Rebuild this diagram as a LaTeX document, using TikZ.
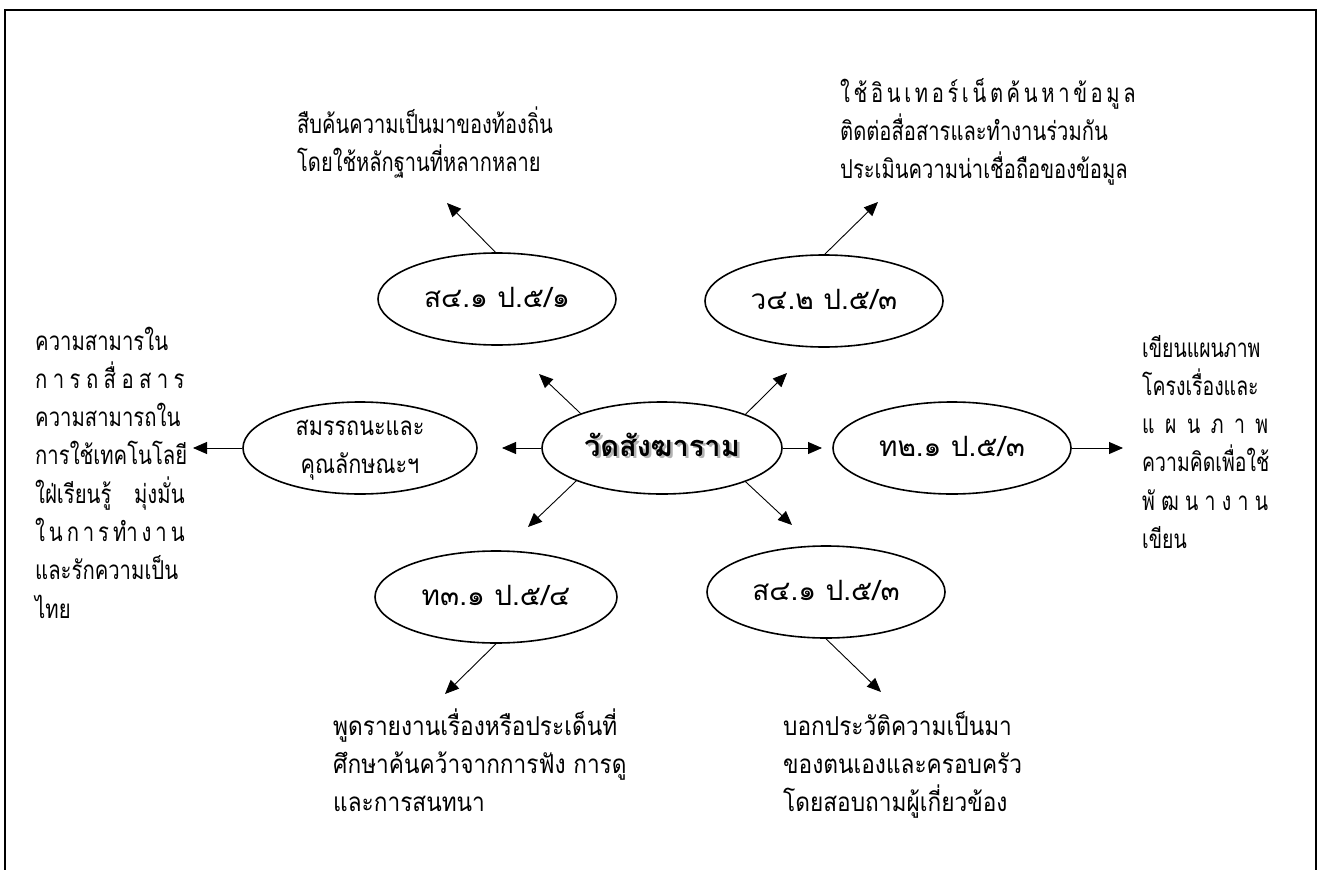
\documentclass[tikz,border=0pt]{standalone}
\usepackage{fontspec}
\setmainfont[Script=Thai,FakeStretch=0.83]{Loma}
\newfontfamily\ovalfont[Script=Thai]{Loma}
\usetikzlibrary{shapes.geometric,arrows.meta}
\newcommand\thlines[1]{\vtop{\baselineskip=38.3pt\lineskiplimit=-\maxdimen #1}}
\newcommand\hsc[2]{\scalebox{#1}[1]{#2}}
\newcommand\jl[2]{\hbox to #1{\spaceskip=.15em plus 1fil\relax #2}}
\newcommand\oneline[1]{\smash{\raisebox{-8pt}{#1}}}
\newcommand\twoline[2]{\smash{\raisebox{13pt}{\vtop{\baselineskip=38pt\lineskiplimit=-\maxdimen\halign{\hfil##\hfil\cr#1\cr#2\cr}}}}}
\newcommand\shadowed[1]{\makebox[0pt][l]{\kern2.5pt\raisebox{-2.5pt}{\color{black!30}#1}}#1}
\begin{document}
\begin{tikzpicture}[x=1pt,y=-1pt,
  oval/.style={ellipse,draw,line width=1.6pt,inner sep=0pt,minimum width=238pt,minimum height=92pt,font=\ovalfont\fontsize{28}{32}\selectfont},
  txt/.style={anchor=base west,inner sep=0pt,font=\fontsize{26}{38.3}\selectfont},
  arr/.style={line width=0.9pt,-{Triangle[length=14pt,width=12pt]}}]
\useasboundingbox (0,0) rectangle (1318,870);
\draw[line width=2pt] (5,10) rectangle (1316,890);
% ellipses
\node[oval,minimum width=240pt] (c) at (662,448) {\oneline{\fontsize{29}{34}\selectfont\bfseries\shadowed{วัดสังฆาราม}}};
\node[oval,minimum width=234pt,font=\fontsize{26}{32}\selectfont] (l) at (360,448) {\twoline{สมรรถนะและ}{คุณลักษณะฯ}};
\node[oval] (r) at (952,448) {\oneline{ท๒.๑ ป.๕/๓}};
\node[oval] (tl) at (497,299) {\oneline{ส๔.๑ ป.๕/๑}};
\node[oval] (tr) at (824,301) {\oneline{ว๔.๒ ป.๕/๓}};
\node[oval,minimum width=242pt] (bl) at (496,597) {\oneline{ท๓.๑ ป.๕/๔}};
\node[oval] (br) at (826,592) {\oneline{ส๔.๑ ป.๕/๓}};
% texts
\node[txt] (tlt) at (297,133) {\hsc{0.93}{\thlines{\hbox{สืบค้นความเป็นมาของท้องถิ่น}\hbox{โดยใช้หลักฐานที่หลากหลาย}}}};
\node[txt] (trt) at (840,102) {\hsc{0.935}{\thlines{\jl{308pt}{ใ ช้ อิ น เ ท อ ร์ เ น็ ต ค้ น ห า ข้ อ มู ล}\jl{308pt}{ติดต่อสื่อสารและทำงานร่วมกัน}\jl{308pt}{ประเมินความน่าเชื่อถือของข้อมูล}}}};
\node[txt] (lt) at (35,350) {\hsc{0.94}{\thlines{\jl{159pt}{ความสามารใน}\jl{159pt}{ก า ร ถ สื่ อ ส า ร}\jl{159pt}{ความสามารถใน}\jl{159pt}{การใช้เทคโนโลยี}\jl{159pt}{ใฝ่เรียนรู้ มุ่งมั่น}\jl{159pt}{ใ น ก า ร ทำ ง า น}\jl{159pt}{และรักความเป็น}\hbox{ไทย}}}};
\node[txt] (rt) at (1142,357) {\hsc{0.9}{\thlines{\jl{140pt}{เขียนแผนภาพ}\jl{140pt}{โครงเรื่องและ}\jl{140pt}{แ ผ น ภ า พ}\jl{140pt}{ความคิดเพื่อใช้}\jl{140pt}{พั ฒ น า ง า น}\hbox{เขียน}}}};
\node[txt] (blt) at (333,735) {\hsc{1.05}{\thlines{\hbox{พูดรายงานเรื่องหรือประเด็นที่}\hbox{ศึกษาค้นคว้าจากการฟัง การดู}\hbox{และการสนทนา}}}};
\node[txt] (brt) at (783,735) {\hsc{1.05}{\thlines{\hbox{บอกประวัติความเป็นมา}\hbox{ของตนเองและครอบครัว}\hbox{โดยสอบถามผู้เกี่ยวข้อง}}}};
% arrow tips
\coordinate (cUL) at (539,374);
\coordinate (cUR) at (787,373);
\coordinate (cL) at (502,448);
\coordinate (cR) at (822,448);
\coordinate (cDL) at (528,527);
\coordinate (cDR) at (792,525);
\coordinate (tlT) at (447,203);
\coordinate (trT) at (878,202);
\coordinate (lT) at (193,448);
\coordinate (rT) at (1123,448);
\coordinate (blT) at (445,694);
\coordinate (brT) at (881,692);
% arrows
\draw[arr] (c.157.9) -- (cUL);
\draw[arr] (c.22.4) -- (cUR);
\draw[arr] (c.180) -- (cL);
\draw[arr] (c.0) -- (cR);
\draw[arr] (c.201.3) -- (cDL);
\draw[arr] (c.338.2) -- (cDR);
\draw[arr] (tl.92) -- (tlT);
\draw[arr] (tr.89) -- (trT);
\draw[arr] (l.180) -- (lT);
\draw[arr] (r.0) -- (rT);
\draw[arr] (bl.270) -- (blT);
\draw[arr] (br.270) -- (brT);
\end{tikzpicture}
\end{document}
